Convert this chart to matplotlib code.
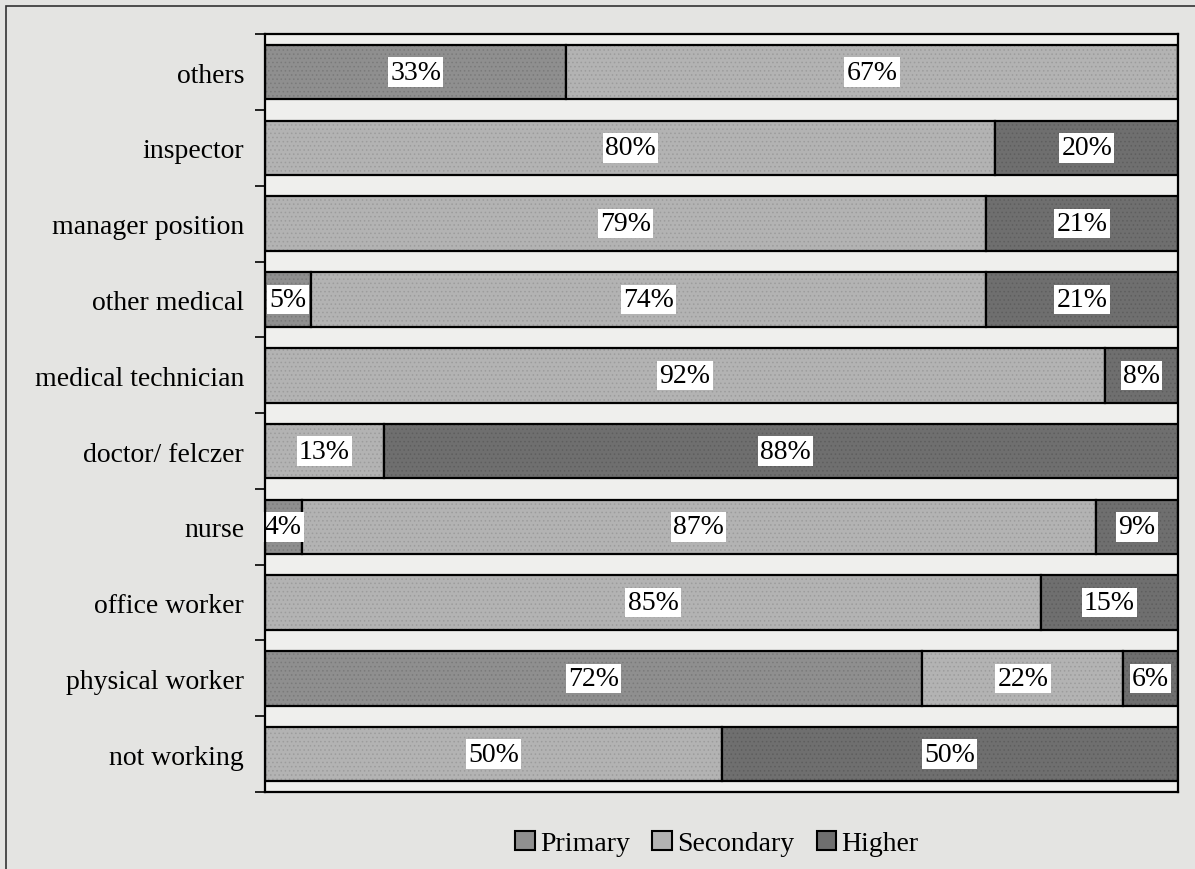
import numpy as np
import matplotlib.pyplot as plt
from matplotlib.patches import Rectangle

# Daten (von oben nach unten)
categories = ['others', 'inspector', 'manager position', 'other medical',
              'medical technician', 'doctor/ felczer', 'nurse', 'office worker',
              'physical worker', 'not working']
primary = [33, 0, 0, 5, 0, 0, 4, 0, 72, 0]
secondary = [67, 80, 79, 74, 92, 13, 87, 85, 22, 50]
higher = [0, 20, 21, 21, 8, 88, 9, 15, 6, 50]
series = ['Primary', 'Secondary', 'Higher']

colors = ['#8f8f8f', '#b3b3b3', '#6f6f6f']
hatchcol = ['#7a7a7a', '#9c9c9c', '#5e5e5e']

plt.rcParams['font.family'] = ['Liberation Serif', 'DejaVu Serif']
plt.rcParams['hatch.linewidth'] = 0.6

fig = plt.figure(figsize=(11.95, 8.7), dpi=100, facecolor='#e4e4e2')
fig.patches.append(Rectangle((6 / 1195, -0.1), 1.2, 1 - 7 / 870 + 0.1,
                             transform=fig.transFigure, fill=False,
                             edgecolor='#333333', lw=1.2))
ax = fig.add_axes([0.2218, 0.0885, 0.764, 0.871])
ax.set_facecolor('#efefed')

y = np.arange(len(categories))
data = [primary, secondary, higher]
left = np.zeros(len(categories))
for vals, c, hc, name in zip(data, colors, hatchcol, series):
    vals = np.array(vals, dtype=float)
    # Fläche mit feiner Schraffur, danach Umriss
    ax.barh(y, vals, left=left, height=0.72, color=c, edgecolor=hc,
            hatch='....', lw=0)
    ax.barh(y, vals, left=left, height=0.72, fill=False, edgecolor='black', lw=1.6)
    for yi, v, l in zip(y, vals, left):
        if v > 0:
            ax.text(l + v / 2, yi, '%d%%' % v, ha='center', va='center',
                    fontsize=20, color='black',
                    bbox=dict(boxstyle='square,pad=0.08', fc='white', ec='none'))
    left += vals

ax.set_xlim(0, 100)
ax.set_ylim(len(categories) - 0.5, -0.5)
ax.set_yticks(y)
ax.set_yticklabels(categories, fontsize=20)
ax.set_yticks(np.arange(len(categories) + 1) - 0.5, minor=True)
ax.tick_params(axis='y', which='major', length=0, pad=15)
ax.tick_params(axis='y', which='minor', length=7, width=1.2, direction='out')
ax.set_xticks([])
for s in ax.spines.values():
    s.set_linewidth(1.6)
    s.set_zorder(5)

handles = [Rectangle((0, 0), 1, 1, fc=c, ec='black', lw=1.5) for c in colors]
fig.legend(handles, series, loc='center', bbox_to_anchor=(0.6, 0.029), ncol=3,
           frameon=False, fontsize=20, handlelength=0.7, handleheight=0.7,
           handletextpad=0.2, columnspacing=0.8)

fig.savefig('out.png', dpi=100, facecolor=fig.get_facecolor())
